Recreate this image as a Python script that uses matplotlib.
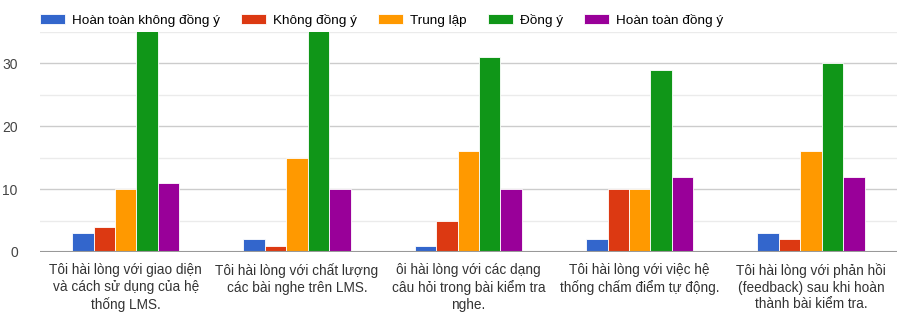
import numpy as np
import matplotlib.pyplot as plt
from matplotlib.ticker import MultipleLocator

plt.rcParams['font.family'] = ['Liberation Sans', 'DejaVu Sans']

# Survey statements (as shown on the chart)
categories = [
    "Tôi hài lòng với giao diện\nvà cách sử dụng của hệ\nthống LMS.",
    "Tôi hài lòng với chất lượng\ncác bài nghe trên LMS.",
    "ôi hài lòng với các dạng\ncâu hỏi trong bài kiểm tra\nnghe.",
    "Tôi hài lòng với việc hệ\nthống chấm điểm tự động.",
    "Tôi hài lòng với phản hồi\n(feedback) sau khi hoàn\nthành bài kiểm tra.",
]

series_names = ["Hoàn toàn không đồng ý", "Không đồng ý", "Trung lập", "Đồng ý", "Hoàn toàn đồng ý"]

hoan_toan_khong = [3, 2, 1, 2, 3]
khong_dong_y = [4, 1, 5, 10, 2]
trung_lap = [10, 15, 16, 10, 16]
dong_y = [36, 36, 31, 29, 30]
hoan_toan_dong_y = [11, 10, 10, 12, 12]

values = [hoan_toan_khong, khong_dong_y, trung_lap, dong_y, hoan_toan_dong_y]
colors = ['#3366CC', '#DC3912', '#FF9900', '#109618', '#990099']

fig = plt.figure(figsize=(8.97, 3.13), dpi=100)
ax = fig.add_axes([0.0446, 0.195, 0.955, 0.703])

x = np.arange(len(categories))
bar_w = 0.125
for i, (name, vals) in enumerate(zip(series_names, values)):
    offset = (i - 2) * bar_w
    ax.bar(x + offset, vals, width=bar_w, color=colors[i], label=name,
           edgecolor='white', linewidth=0.6, zorder=3)

ax.set_xlim(-0.5, len(categories) - 0.5)
ax.set_ylim(0, 35)
ax.yaxis.set_major_locator(MultipleLocator(10))
ax.yaxis.set_minor_locator(MultipleLocator(5))
ax.grid(True, which='major', axis='y', color='#cccccc', linewidth=1, zorder=0)
ax.grid(True, which='minor', axis='y', color='#ebebeb', linewidth=1, zorder=0)
ax.axhline(0, color='#999999', linewidth=1.5, zorder=4)

for s in ax.spines.values():
    s.set_visible(False)

ax.set_xticks(x)
ax.set_xticklabels(categories, fontsize=9.8, color='#333333', linespacing=1.25)
ax.tick_params(axis='x', length=0, pad=8)
ax.tick_params(axis='y', which='both', length=0, labelsize=10, labelcolor='#444444', pad=16)

fig.legend(loc='center left', bbox_to_anchor=(0.0446, 0.935), ncol=5, frameon=False,
           fontsize=9.7, handlelength=1.85, handleheight=0.75, handletextpad=0.5,
           columnspacing=1.6, borderaxespad=0, borderpad=0)

fig.savefig('out.png', dpi=100)
